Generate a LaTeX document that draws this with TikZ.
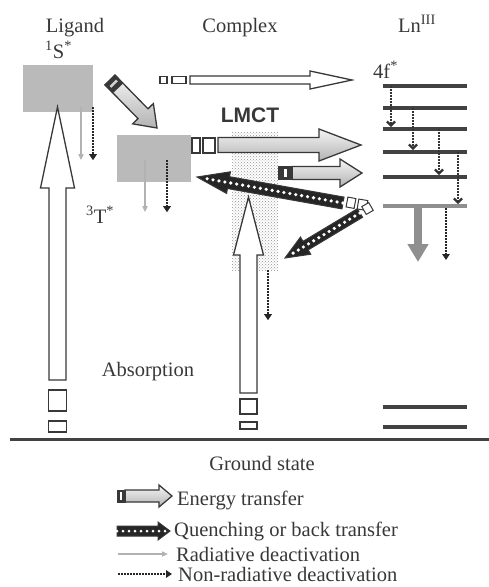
\documentclass[tikz,border=0pt]{standalone}
\usepackage{fontspec}
\setmainfont{Liberation Serif}
\setsansfont{Liberation Sans}
\definecolor{ink}{rgb}{0.22,0.22,0.22}
\definecolor{lnbar}{rgb}{0.26,0.26,0.26}
\definecolor{boxgray}{rgb}{0.73,0.73,0.73}
\definecolor{midgray}{rgb}{0.56,0.56,0.56}
\usepackage{tikz}
\usetikzlibrary{arrows.meta,positioning,calc,patterns}

\newcommand{\blockarr}[6][]{%
  \coordinate (ba-h) at ($(#3)!#6!(#2)$);
  \draw[#1] ($(#2)!#4!90:(#3)$) -- ($(ba-h)!#4!-90:(#2)$) -- ($(ba-h)!#5!-90:(#2)$) -- (#3)
    -- ($(ba-h)!#5!90:(#2)$) -- ($(ba-h)!#4!90:(#2)$) -- ($(#2)!#4!-90:(#3)$) -- cycle;}
\newcommand{\barseg}[4][]{%
  \draw[#1] ($(#2)!#4!90:(#3)$) -- ($(#3)!#4!-90:(#2)$) -- ($(#3)!#4!90:(#2)$) -- ($(#2)!#4!-90:(#3)$) -- cycle;}

\begin{document}
\begin{tikzpicture}[x=1pt, y=-1pt,
      font=\fontsize{20.5}{24}\selectfont, text=ink,
      every node/.style={inner sep=0pt},
      lvl/.style={fill=lnbar, minimum width=84pt, minimum height=3.6pt},
      hollow/.style={draw=ink, line width=1.3pt, fill=white},
      shiny/.style={draw=ink, line width=1.3pt, top color=gray!8, bottom color=gray!60},
      quench/.style={draw=ink, line width=1pt, fill=black!85},
      qdots/.style={white, line width=3.6pt, line cap=round, dash pattern=on 0pt off 6pt},
      rad/.style={draw=gray!60, line width=1.5pt, -{Triangle[length=6pt,width=5pt]}},
      nonrad/.style={draw=black!85, line width=2.6pt, dash pattern=on 1.6pt off 1.4pt, -{Triangle[length=6pt,width=7.5pt]}},
      cascade/.style={draw=black!80, line width=2.2pt, dash pattern=on 1.6pt off 1.4pt, -{Straight Barb[length=4pt,width=8pt]}}
  ]
    \useasboundingbox (0,0) rectangle (489,587);

    \node[anchor=base] (lig) at (75,32) {Ligand};
    \node[anchor=base] (cplx) at (240,32) {Complex};
    \node[anchor=base] (lnhead) at (417,32) {Ln\textsuperscript{III}};

    \node[fill=boxgray, minimum width=70pt, minimum height=47pt] (s1) at (58,88.5) {};
    \node[fill=boxgray, minimum width=74pt, minimum height=47pt] (t3) at (154,158.5) {};
    \node[pattern=crosshatch dots, pattern color=gray!85, minimum width=46pt, minimum height=138pt] (mix) at (255,201) {};
    \node[anchor=base west] (s1lab) at (45,58) {\textsuperscript{1}S\textsuperscript{*}};
    \node[anchor=base west] (t3lab) at (86,223) {\textsuperscript{3}T\textsuperscript{*}};
    \node[anchor=base west] (f4lab) at (373,78) {4f\textsuperscript{*}};
    \node[anchor=base, font=\fontsize{21}{24}\sffamily\bfseries] (lmct) at (250,122) {LMCT};
    \node[anchor=base] (abs) at (148,376) {Absorption};
    \node[anchor=base] (gs) at (262,470) {Ground state};

    \node[lvl] (f1) at (425,86) {};
    \node[lvl] (f2) at (425,108) {};
    \node[lvl] (f3) at (425,129) {};
    \node[lvl] (f4) at (425,152) {};
    \node[lvl] (f5) at (425,177) {};
    \node[lvl, fill=midgray] (f6) at (425,206) {};
    \node[lvl] (g1) at (425,407) {};
    \node[lvl] (g2) at (425,427) {};
    \draw[lnbar, line width=3pt] (10,439) -- (489,439);

    \coordinate (absL0) at (57.5,380);
    \coordinate (absL1) at (57.5,107);
    \blockarr[hollow]{absL0}{absL1}{8.5pt}{17pt}{81pt}
    \draw[hollow] (48.5,390) rectangle (66.5,411);
    \draw[hollow] (48.5,421) rectangle (66.5,432);

    \coordinate (absC0) at (248.5,393);
    \coordinate (absC1) at (248.5,197);
    \blockarr[hollow]{absC0}{absC1}{8.5pt}{15pt}{58pt}
    \draw[hollow] (240,399) rectangle (257,414);
    \draw[hollow] (240,422) rectangle (257,429);

    \draw[rad] ([xshift=23pt,yshift=5pt]s1.south) -- ++(0,53);
    \draw[nonrad] ([xshift=35pt,yshift=5pt]s1.south) -- ++(0,53);
    \draw[rad] ([xshift=-9pt,yshift=22pt]t3.south) -- ++(0,52);
    \draw[nonrad] ([xshift=13pt,yshift=22pt]t3.south) -- ++(0,52);
    \draw[nonrad] ([xshift=13pt]mix.south) -- ++(0,50);

    \coordinate (isc0) at (110,80);
    \coordinate (isc1) at (157,128);
    \blockarr[shiny]{isc0}{isc1}{7pt}{14.5pt}{20pt}
    \coordinate (isc2) at ($(isc0)!11pt!(isc1)$);
    \coordinate (isc3) at ($(isc0)!4pt!(isc1)$);
    \coordinate (isc4) at ($(isc0)!6.5pt!(isc1)$);
    \barseg[fill=ink, draw=ink, line width=1pt]{isc0}{isc2}{7pt}
    \barseg[fill=gray!35, draw=none]{isc3}{isc4}{4.5pt}

    \draw[hollow] (160,76.5) rectangle (167,83.5);
    \draw[hollow] (172,76.5) rectangle (186,83.5);
    \coordinate (top0) at (190,80);
    \coordinate (top1) at (352,80);
    \blockarr[hollow]{top0}{top1}{4pt}{9pt}{42pt}

    \draw[hollow] (192,138) rectangle (200,153);
    \draw[hollow] (203,138) rectangle (215,153);
    \coordinate (lm0) at (218,145);
    \coordinate (lm1) at (361,145);
    \blockarr[shiny]{lm0}{lm1}{7.5pt}{16pt}{42pt}

    \coordinate (et0) at (292,173);
    \coordinate (et1) at (362,173);
    \blockarr[shiny]{et0}{et1}{6.5pt}{14pt}{22pt}
    \draw[fill=ink, draw=ink] (278,166.5) rectangle (292,179.5);
    \fill[white] (284,169) rectangle (287,177);

    \coordinate (q1t) at (343,203);
    \coordinate (q1h) at (197,177);
    \blockarr[quench]{q1t}{q1h}{6pt}{11pt}{32pt}
    \draw[qdots] (q1t) -- ($(q1h)!8pt!(q1t)$);
    \coordinate (q2t) at (360,213);
    \coordinate (q2h) at (285,258);
    \blockarr[quench]{q2t}{q2h}{5pt}{10pt}{24pt}
    \draw[qdots] (q2t) -- ($(q2h)!8pt!(q2t)$);
    \coordinate (qa) at (347,202);
    \coordinate (qb) at (355,203.5);
    \coordinate (qc) at (358,204);
    \coordinate (qd) at (367,205.5);
    \coordinate (qe) at (371,206.5);
    \coordinate (qf) at (364,210.5);
    \barseg[hollow, line width=1pt]{qa}{qb}{5pt}
    \barseg[hollow, line width=1pt]{qc}{qd}{5pt}
    \barseg[hollow, line width=1pt]{qe}{qf}{4.5pt}

    \draw[cascade] ([xshift=-34pt]f1.center) -- ([xshift=-34pt]f3.north);
    \draw[cascade] ([xshift=-12pt]f2.center) -- ([xshift=-12pt]f4.north);
    \draw[cascade] ([xshift=14pt]f3.center) -- ([xshift=14pt]f5.north);
    \draw[cascade] ([xshift=33pt]f4.center) -- ([xshift=33pt]f6.north);
    \draw[draw=midgray, line width=8pt, -{Triangle[length=18pt,width=20pt]}] ([xshift=-7pt]f6.south) -- ++(0,54);
    \draw[nonrad] ([xshift=21pt]f6.south) -- ++(0,52);

    \node[anchor=base west] (legET) at (177,505) {Energy transfer};
    \node[anchor=base west] (legQ) at (174,536) {Quenching or back transfer};
    \node[anchor=base west] (legR) at (176,561) {Radiative deactivation};
    \node[anchor=base west] (legN) at (178,581) {Non-radiative deactivation};

    \coordinate (le0) at (125,496);
    \coordinate (le1) at (172,496);
    \blockarr[shiny]{le0}{le1}{6pt}{11pt}{13pt}
    \draw[fill=ink, draw=ink] (117,490) rectangle (125,502);
    \fill[white] (120,492) rectangle (122,500);
    \coordinate (lq0) at (117,531);
    \coordinate (lq1) at (170,531);
    \blockarr[quench]{lq0}{lq1}{5pt}{9pt}{12pt}
    \draw[qdots, line width=3pt, dash pattern=on 0pt off 6pt] (lq0) -- ($(lq1)!5pt!(lq0)$);
    \draw[rad] ([xshift=-58pt,yshift=7pt]legR.base west) -- ([xshift=-8pt,yshift=7pt]legR.base west);
    \draw[nonrad] ([xshift=-60pt,yshift=7pt]legN.base west) -- ([xshift=-6pt,yshift=7pt]legN.base west);
  \end{tikzpicture}
\end{document}
